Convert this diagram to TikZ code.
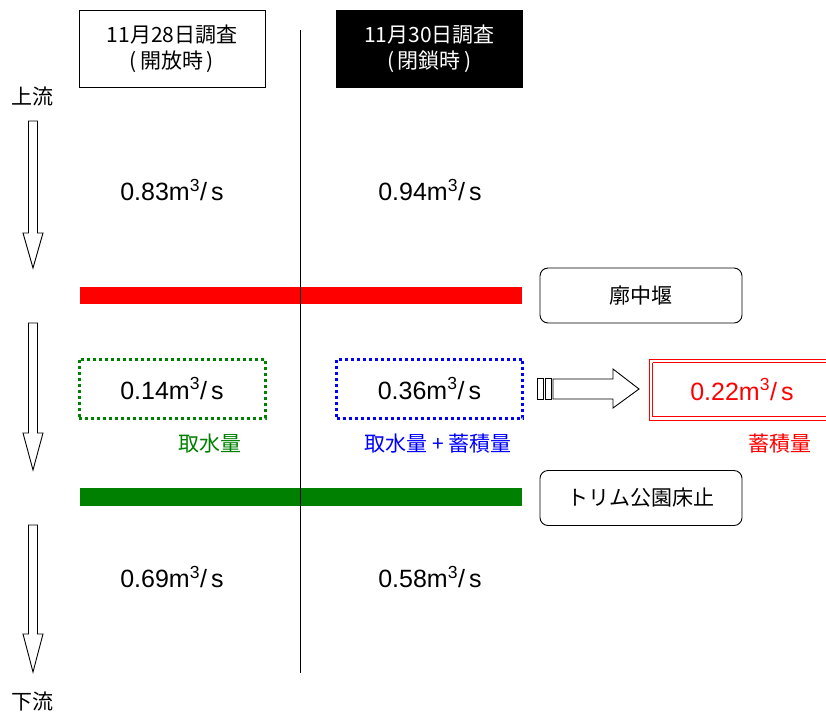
\documentclass[tikz,border=0pt]{standalone}
\usepackage{fontspec}
\setmainfont{Liberation Sans}
\newfontfamily\jp{Noto Sans CJK JP}
\definecolor{dgreen}{RGB}{0,128,0}
\begin{document}
\begin{tikzpicture}[x=1pt,y=-1pt,
  jpfont/.style={font=\jp\fontsize{21}{26}\selectfont},
  titlebox/.style={draw, line width=1pt, minimum width=186pt, minimum height=77pt, align=center, jpfont, inner sep=0pt},
  flowtxt/.style={font=\fontsize{25}{28}\selectfont, inner sep=0pt},
  weirbox/.style={draw, line width=0.9pt, rounded corners=8pt, minimum width=202pt, minimum height=55pt, jpfont, inner sep=0pt},
  dotbox/.style={line width=3pt, dash pattern=on 3pt off 3pt, minimum width=186pt, minimum height=59pt, flowtxt},
  hollow/.style={draw, line width=0.9pt, fill=white}
]
\useasboundingbox (0,0) rectangle (826,713);
\begin{scope}
\clip (0,0) rectangle (826,713);
% storage box (clipped at the right edge)
\draw[red, line width=1pt] (649,359) -- (840,359) (649,359) -- (649,420) -- (840,420);
\draw[red, line width=1pt] (652.5,362.5) -- (840,362.5) (652.5,362.5) -- (652.5,416.5) -- (840,416.5);
\end{scope}
\node[flowtxt, text=red, minimum width=186pt, minimum height=60pt] (r) at (742,389.5) {0.22m\textsuperscript{3}/\,s};
% titles
\node[titlebox] (t1) at (172,48.5) {11月28日調査\\(\,開放時\,)};
\node[titlebox, fill=black, text=white] (t2) at (429.5,48.5) {11月30日調査\\(\,閉鎖時\,)};
% bars
\fill[red] (80,287) rectangle (522,304);
\fill[dgreen] (80,488) rectangle (522,506);
% divider
\coordinate (vtop) at (300,30);
\coordinate (vbot) at (300,673);
\draw[line width=0.9pt] (vtop) -- (vbot);
% side labels
\node[jpfont] (up) at (33,96) {上流};
\node[jpfont] (down) at (33,701) {下流};
% side arrows
\draw[hollow] (28.5,121) -- (37.5,121) -- (37.5,233) -- (43,233) -- (33,268) -- (23,233) -- (28.5,233) -- cycle;
\draw[hollow] (28.5,323) -- (37.5,323) -- (37.5,433) -- (43,433) -- (33,470) -- (23,433) -- (28.5,433) -- cycle;
\draw[hollow] (28.5,525) -- (37.5,525) -- (37.5,634) -- (43,634) -- (33,672) -- (23,634) -- (28.5,634) -- cycle;
% flows
\node[flowtxt] (f1) at (172,190) {0.83m\textsuperscript{3}/\,s};
\node[flowtxt] (f2) at (430,190) {0.94m\textsuperscript{3}/\,s};
\node[flowtxt] (f3) at (172,577) {0.69m\textsuperscript{3}/\,s};
\node[flowtxt] (f4) at (430,577) {0.58m\textsuperscript{3}/\,s};
% weirs
\node[weirbox] (w1) at (641,295.5) {廓中堰};
\node[weirbox] (w2) at (641,498) {トリム公園床止};
% intake boxes
\node[dotbox, draw=dgreen] (g) at (172,388.5) {0.14m\textsuperscript{3}/\,s};
\node[dotbox, draw=blue] (b) at (429.5,388.5) {0.36m\textsuperscript{3}/\,s};
\node[jpfont, text=dgreen] (gl) at (210,444) {取水量};
\node[jpfont, text=blue] (bl) at (438,444) {取水量 + 蓄積量};
\node[jpfont, text=red] (rl) at (780,444) {蓄積量};
% block arrow
\draw[hollow] (537,378) rectangle (543,399);
\draw[hollow] (545,378) rectangle (551,399);
\draw[hollow] (553,379) -- (613,379) -- (613,369) -- (639,389) -- (613,408) -- (613,399) -- (553,399) -- cycle;
\end{tikzpicture}
\end{document}
